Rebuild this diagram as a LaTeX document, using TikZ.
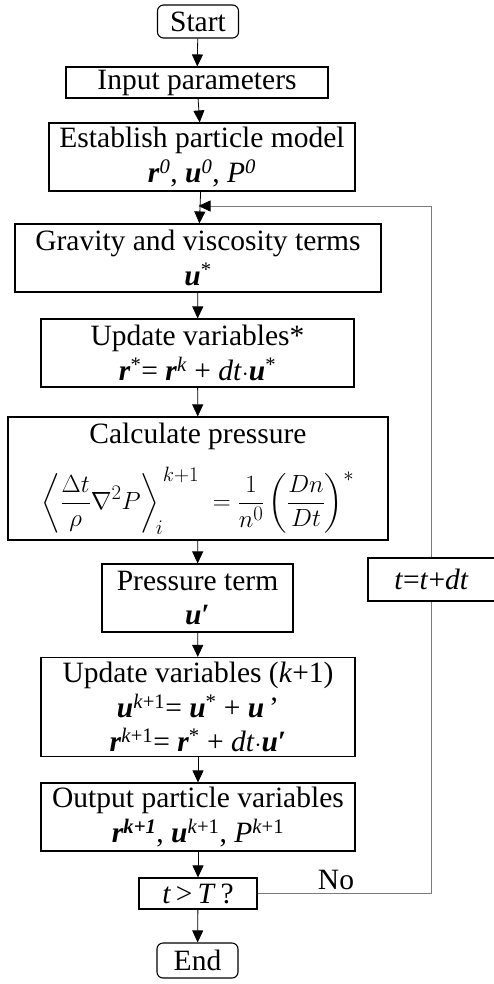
\documentclass[tikz,border=0pt]{standalone}
\usepackage{fontspec}
\usepackage{amsmath}
\setmainfont{Liberation Serif}
\usetikzlibrary{arrows.meta,positioning}
\definecolor{loopline}{HTML}{7A7A7A}
\newcommand{\bvec}[1]{\textbf{\textit{#1}}}

\begin{document}
\begin{tikzpicture}[x=1pt,y=-1pt,
  box/.style={draw,line width=1.1pt,align=center,inner sep=1pt,font=\fontsize{29.5}{34.5}\selectfont},
  term/.style={box,rounded corners=6pt},
  arr/.style={-{Triangle[width=11pt,length=12pt]},thick},
  back/.style={loopline,semithick}]
  \useasboundingbox (0,0) rectangle (493,984);
  % main column
  \node[term,minimum width=81,minimum height=33] (start) at (198,21.5) {Start};
  \node[box,minimum width=262,minimum height=31] (input) at (197,82.5) {Input parameters};
  \node[box,minimum width=306,minimum height=68] (model) at (202,157)
    {Establish particle model\\
     \bvec{r}\textsuperscript{\textit{0}}, \bvec{u}\textsuperscript{\textit{0}}, \textit{P}\textsuperscript{\textit{0}}};
  \node[box,minimum width=366,minimum height=68] (gravity) at (198,258)
    {Gravity and viscosity terms\\ \bvec{u}\textsuperscript{*}};
  \node[box,minimum width=313,minimum height=68] (upstar) at (197.5,353)
    {Update variables*\\
     \bvec{r}\textsuperscript{*}= \bvec{r}\textsuperscript{\textit{k}} + \textit{dt}$\cdot$\bvec{u}\textsuperscript{*}};
  \node[box,minimum width=380,minimum height=123] (press) at (198,478.5)
    {Calculate pressure\\[17pt]
     $\displaystyle\left\langle\frac{\Delta t}{\rho}\nabla^2 P\right\rangle_{\!i}^{\,k+1}
      \;=\frac{1}{n^0}\left(\frac{Dn}{Dt}\right)^{*}$};
  \node[box,minimum width=191,minimum height=68] (pterm) at (197.5,598)
    {Pressure term\\ \bvec{u}\textbf{′}};
  \node[box,minimum width=314,minimum height=99] (upnext) at (198,707)
    {Update variables (\textit{k}+1)\\
     \bvec{u}\textsuperscript{\textit{k}+1}= \bvec{u}\textsuperscript{*} + \bvec{u}\,’\\
     \bvec{r}\textsuperscript{\textit{k}+1}= \bvec{r}\textsuperscript{*} + \textit{dt}$\cdot$\bvec{u}\textbf{′}};
  \node[box,minimum width=314,minimum height=68] (output) at (198,817)
    {Output particle variables\\
     \bvec{r}\textsuperscript{\bvec{k+1}}, \bvec{u}\textsuperscript{\textit{k}+1}, \textit{P}\textsuperscript{\textit{k}+1}};
  \node[box,minimum width=118,minimum height=31] (check) at (198,893.5)
    {\textit{t}\,>\,\textit{T}\,?};
  \node[term,minimum width=81,minimum height=35] (end) at (197.5,960.5) {End};

  % time step on the return path
  \node[box,minimum width=127,minimum height=43] (tstep) at (431.5,579.5)
    {\textit{t}=\textit{t}+\textit{dt}};
  \coordinate (join) at (198.5,206);

  % forward arrows
  \foreach \a/\b in {start/input,input/model,model/gravity,gravity/upstar,
                     upstar/press,press/pterm,pterm/upnext,upnext/output,
                     output/check,check/end}
    \draw[arr] (\a) -- (\b);

  % loop back
  \draw[back] (check.east) -| (tstep.south);
  \draw[back,-{Triangle[width=11pt,length=12pt,color=black]}] (tstep.north) |- (join);
  \node[font=\fontsize{29.5}{34.5}\selectfont] (no) at (336,880) {No};
\end{tikzpicture}
\end{document}
